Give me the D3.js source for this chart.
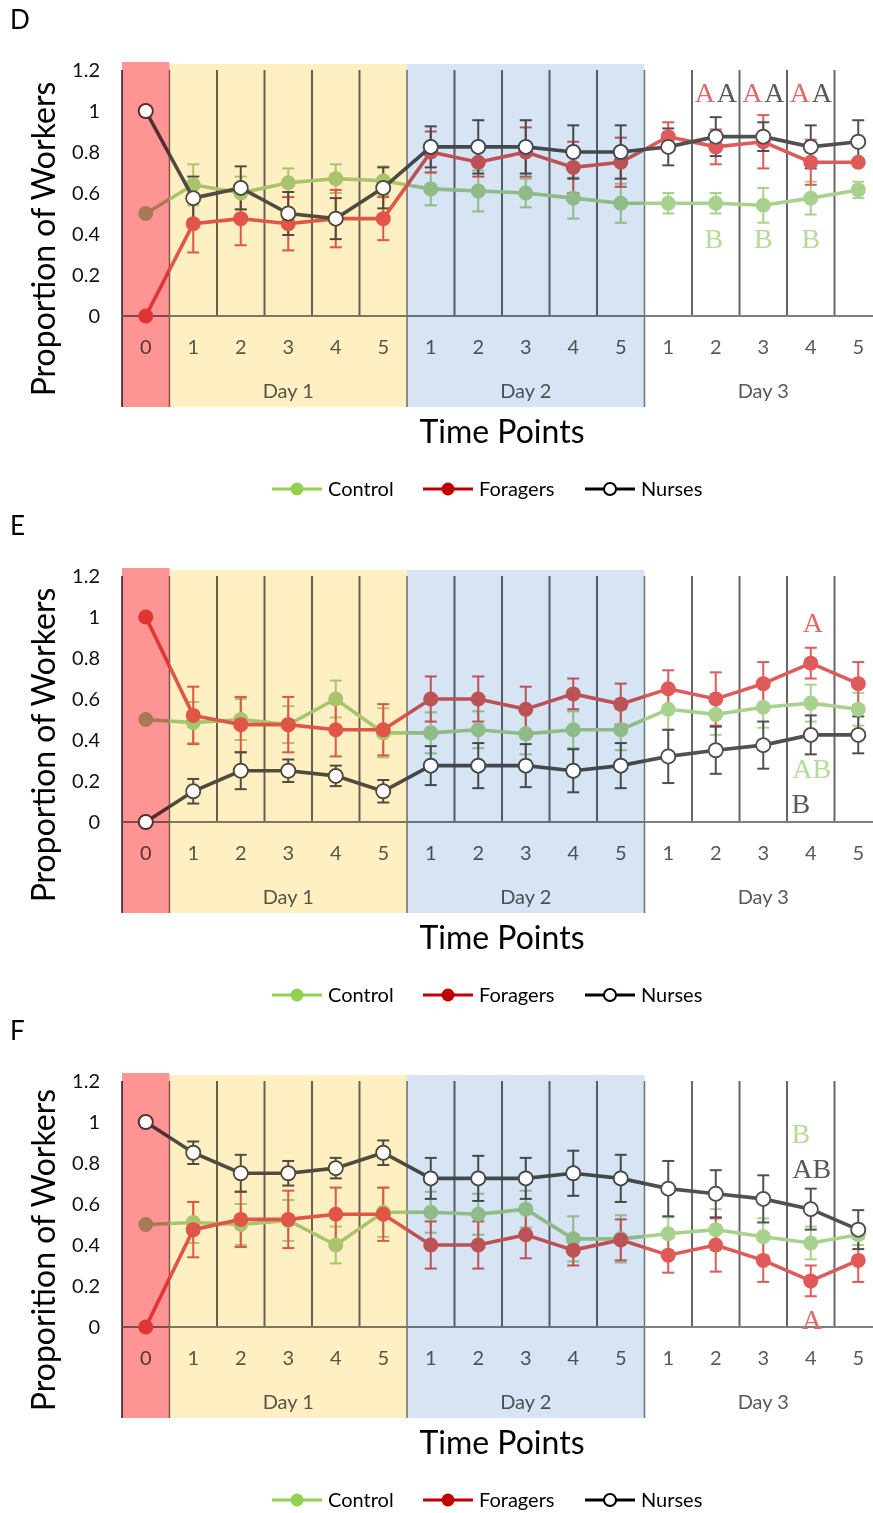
<!DOCTYPE html>
<html>
<head>
<meta charset="utf-8">
<script src="https://cdn.jsdelivr.net/npm/d3@7"></script>
<style>
  body { margin: 0; background: #fff; }
  svg { display: block; font-family: Lato, "Open Sans", sans-serif; }
</style>
</head>
<body>
<div id="chart"></div>
<script>
'use strict';

// categories on the x axis (time point within each day)
const categories = ['0', '1', '2', '3', '4', '5', '1', '2', '3', '4', '5', '1', '2', '3', '4', '5'];
const days = ['Day 1', 'Day 2', 'Day 3'];
const yTicks = [0, 0.2, 0.4, 0.6, 0.8, 1, 1.2];
const seriesNames = ['Control', 'Foragers', 'Nurses'];

// Panel D
const controlD = [0.5, 0.64, 0.60, 0.65, 0.67, 0.66, 0.62, 0.61, 0.60, 0.575, 0.55, 0.55, 0.55, 0.54, 0.575, 0.615];
const controlErrD = [0, 0.10, 0.08, 0.07, 0.07, 0.07, 0.08, 0.10, 0.07, 0.10, 0.095, 0.05, 0.05, 0.085, 0.08, 0.04];
const foragersD = [0, 0.45, 0.475, 0.45, 0.475, 0.475, 0.80, 0.75, 0.80, 0.725, 0.75, 0.875, 0.825, 0.85, 0.75, 0.75];
const foragersErrD = [0, 0.14, 0.13, 0.13, 0.14, 0.105, 0.10, 0.07, 0.12, 0.125, 0.12, 0.07, 0.085, 0.13, 0.11, 0];
const nursesD = [1, 0.575, 0.625, 0.50, 0.475, 0.625, 0.825, 0.825, 0.825, 0.80, 0.80, 0.825, 0.875, 0.875, 0.825, 0.85];
const nursesErrD = [0, 0.105, 0.105, 0.105, 0.10, 0.10, 0.10, 0.13, 0.13, 0.13, 0.13, 0.09, 0.095, 0.07, 0.105, 0.105];

// Panel E
const controlE = [0.5, 0.485, 0.50, 0.475, 0.60, 0.435, 0.435, 0.45, 0.43, 0.45, 0.45, 0.55, 0.525, 0.56, 0.58, 0.55];
const controlErrE = [0, 0.10, 0.10, 0.09, 0.09, 0.12, 0.10, 0.09, 0.10, 0.09, 0.10, 0.10, 0.10, 0.10, 0.09, 0.08];
const foragersE = [1, 0.52, 0.475, 0.475, 0.45, 0.45, 0.60, 0.60, 0.55, 0.625, 0.575, 0.65, 0.60, 0.675, 0.775, 0.675];
const foragersErrE = [0, 0.14, 0.135, 0.135, 0.13, 0.125, 0.11, 0.11, 0.11, 0.075, 0.10, 0.09, 0.13, 0.105, 0.075, 0.105];
const nursesE = [0, 0.15, 0.25, 0.25, 0.225, 0.15, 0.275, 0.275, 0.275, 0.25, 0.275, 0.32, 0.35, 0.375, 0.425, 0.425];
const nursesErrE = [0, 0.06, 0.09, 0.055, 0.05, 0.055, 0.095, 0.11, 0.105, 0.105, 0.11, 0.13, 0.115, 0.115, 0.095, 0.09];

// Panel F
const controlF = [0.5, 0.51, 0.50, 0.52, 0.40, 0.56, 0.56, 0.55, 0.575, 0.43, 0.43, 0.455, 0.475, 0.44, 0.41, 0.45];
const controlErrF = [0, 0.10, 0.10, 0.10, 0.09, 0.12, 0.10, 0.10, 0.09, 0.11, 0.115, 0.08, 0.10, 0.09, 0.08, 0.05];
const foragersF = [0, 0.475, 0.525, 0.525, 0.55, 0.55, 0.40, 0.40, 0.45, 0.375, 0.425, 0.35, 0.40, 0.325, 0.225, 0.325];
const foragersErrF = [0, 0.135, 0.135, 0.14, 0.13, 0.13, 0.115, 0.115, 0.115, 0.075, 0.10, 0.085, 0.13, 0.105, 0.075, 0.105];
const nursesF = [1, 0.85, 0.75, 0.75, 0.775, 0.85, 0.725, 0.725, 0.725, 0.75, 0.725, 0.675, 0.65, 0.625, 0.575, 0.475];
const nursesErrF = [0, 0.055, 0.09, 0.06, 0.05, 0.06, 0.10, 0.11, 0.10, 0.11, 0.115, 0.135, 0.115, 0.115, 0.10, 0.095];

// significance letters: point index, value where the baseline sits, text, series
const lettersD = [
	{i: 12, v: 1.045, text: 'A', s: 'Foragers', dx: -11}, {i: 12, v: 1.045, text: 'A', s: 'Nurses', dx: 11},
	{i: 13, v: 1.045, text: 'A', s: 'Foragers', dx: -11}, {i: 13, v: 1.045, text: 'A', s: 'Nurses', dx: 11},
	{i: 14, v: 1.045, text: 'A', s: 'Foragers', dx: -11}, {i: 14, v: 1.045, text: 'A', s: 'Nurses', dx: 11},
	{i: 12, v: 0.33, text: 'B', s: 'Control', dx: -2}, {i: 13, v: 0.33, text: 'B', s: 'Control', dx: 0},
	{i: 14, v: 0.33, text: 'B', s: 'Control', dx: 0}
];
const lettersE = [
	{i: 14, v: 0.925, text: 'A', s: 'Foragers', dx: 2},
	{i: 14, v: 0.215, text: 'AB', s: 'Control', dx: 1},
	{i: 14, v: 0.045, text: 'B', s: 'Nurses', dx: -10}
];
const lettersF = [
	{i: 14, v: 0.90, text: 'B', s: 'Control', dx: -10},
	{i: 14, v: 0.725, text: 'AB', s: 'Nurses', dx: 1},
	{i: 14, v: -0.012, text: 'A', s: 'Foragers', dx: 1}
];

const panels = [
	{letter: 'D', top: 0, yTitle: 'Proportion of Workers', series: [[controlD, controlErrD], [foragersD, foragersErrD], [nursesD, nursesErrD]], letters: lettersD},
	{letter: 'E', top: 506, yTitle: 'Proportion of Workers', series: [[controlE, controlErrE], [foragersE, foragersErrE], [nursesE, nursesErrE]], letters: lettersE},
	{letter: 'F', top: 1011, yTitle: 'Proporition of Workers', series: [[controlF, controlErrF], [foragersF, foragersErrF], [nursesF, nursesErrF]], letters: lettersF}
];

const colors = {'Control': '#a9d18e', 'Foragers': '#e05a5a', 'Nurses': '#505050'};
const letterColors = {'Control': '#b4db98', 'Foragers': '#e06a6a', 'Nurses': '#595959'};
const regionColors = ['#ff9494', '#fff0c3', '#d6e4f3'];

const W = 873, H = 1513;
const svg = d3.select('#chart').append('svg')
	.attr('width', W)
	.attr('height', H);

svg.append('rect').attr('width', W).attr('height', H).attr('fill', '#fff');

const x = d3.scalePoint()
	.domain(d3.range(categories.length))
	.range([122, 882])
	.padding(0.5);
const step = x.step();

function drawPanel(p) {
	const g = svg.append('g').attr('transform', 'translate(0,' + p.top + ')');
	const y = d3.scaleLinear().domain([0, 1.2]).range([316, 70]);
	const bottom = 407;

	g.append('text')
		.attr('x', 10).attr('y', 29)
		.attr('font-size', 26)
		.text(p.letter);

	// vertical separators
	for (let k = 1; k < categories.length; k++) {
		const xx = x(k) - step / 2;
		const big = (k === 1 || k === 6 || k === 11);
		g.append('line')
			.attr('x1', xx).attr('x2', xx)
			.attr('y1', y(1.2)).attr('y2', big ? bottom : y(0))
			.attr('stroke', big ? '#777' : '#666')
			.attr('stroke-width', big ? 1.5 : 2);
	}
	// left axis line and x axis line
	g.append('line').attr('x1', 122).attr('x2', 122).attr('y1', y(1.2)).attr('y2', bottom)
		.attr('stroke', '#555').attr('stroke-width', 2);
	g.append('line').attr('x1', 122).attr('x2', W).attr('y1', y(0)).attr('y2', y(0))
		.attr('stroke', '#7f7f7f').attr('stroke-width', 2);

	// y axis labels
	const yAxis = d3.axisLeft(y)
		.tickValues(yTicks)
		.tickSize(0)
		.tickPadding(22)
		.tickFormat(d => String(d));
	const ya = g.append('g').attr('transform', 'translate(122,0)').call(yAxis);
	ya.select('.domain').remove();
	ya.selectAll('text').attr('font-size', 20).attr('font-family', 'Lato').attr('fill', '#111');

	// x category labels
	g.selectAll('.xlab').data(categories).enter().append('text')
		.attr('x', (d, i) => x(i))
		.attr('y', 354)
		.attr('text-anchor', 'middle')
		.attr('font-size', 20)
		.attr('fill', '#595959')
		.text(d => d);
	days.forEach((d, k) => {
		g.append('text')
			.attr('x', x(1 + k * 5 + 2))
			.attr('y', 398)
			.attr('text-anchor', 'middle')
			.attr('font-size', 20)
			.attr('fill', '#595959')
			.text(d);
	});

	// series
	const line = d3.line().x((d, i) => x(i)).y(d => y(d));
	p.series.forEach((s, si) => {
		const name = seriesNames[si];
		const col = colors[name];
		const vals = s[0], errs = s[1];
		const eb = g.append('g');
		vals.forEach((v, i) => {
			const e = errs[i];
			if (!e) return;
			eb.append('line').attr('x1', x(i)).attr('x2', x(i)).attr('y1', y(v - e)).attr('y2', y(v + e))
				.attr('stroke', col).attr('stroke-width', 2);
			[v - e, v + e].forEach(c => {
				eb.append('line').attr('x1', x(i) - 6).attr('x2', x(i) + 6).attr('y1', y(c)).attr('y2', y(c))
					.attr('stroke', col).attr('stroke-width', 2);
			});
		});
	});
	p.series.forEach((s, si) => {
		const name = seriesNames[si];
		const col = colors[name];
		g.append('path')
			.attr('d', line(s[0]))
			.attr('fill', 'none')
			.attr('stroke', col)
			.attr('stroke-width', 3.6);
		g.selectAll('.m' + si).data(s[0]).enter().append('circle')
			.attr('cx', (d, i) => x(i))
			.attr('cy', d => y(d))
			.attr('r', name === 'Nurses' ? 7 : 7.5)
			.attr('fill', name === 'Nurses' ? '#fff' : col)
			.attr('stroke', col)
			.attr('stroke-width', name === 'Nurses' ? 2 : 0);
	});

	// shaded day regions, multiplied over the plot
	const regions = [[0, 1], [1, 6], [6, 11]];
	regions.forEach((r, k) => {
		const x0 = x(r[0]) - step / 2, x1 = x(r[1]) - step / 2;
		g.append('rect')
			.attr('x', x0).attr('y', k === 0 ? 62 : 64)
			.attr('width', x1 - x0)
			.attr('height', bottom - (k === 0 ? 62 : 64))
			.attr('fill', regionColors[k])
			.style('mix-blend-mode', 'multiply');
	});
	// open marker interiors stay white
	g.selectAll('.hole').data(p.series[2][0]).enter().append('circle')
		.attr('cx', (d, i) => x(i))
		.attr('cy', d => y(d))
		.attr('r', 6)
		.attr('fill', '#fff');

	// significance letters
	p.letters.forEach(l => {
		g.append('text')
			.attr('x', x(l.i) + l.dx)
			.attr('y', y(l.v))
			.attr('text-anchor', 'middle')
			.attr('font-family', '"Liberation Serif", serif')
			.attr('font-size', 28)
			.attr('fill', letterColors[l.s])
			.text(l.text);
	});

	// axis titles
	g.append('text')
		.attr('transform', 'translate(55,239) rotate(-90)')
		.attr('text-anchor', 'middle')
		.attr('font-size', 32)
		.text(p.yTitle);
	g.append('text')
		.attr('x', 502).attr('y', 443)
		.attr('text-anchor', 'middle')
		.attr('font-size', 32)
		.text('Time Points');

	// legend
	const lg = g.append('g').attr('transform', 'translate(0,489)');
	const legX = [272, 423, 585];
	seriesNames.forEach((name, k) => {
		const col = name === 'Control' ? '#92d050' : (name === 'Foragers' ? '#c00000' : '#000');
		lg.append('line').attr('x1', legX[k]).attr('x2', legX[k] + 50).attr('y1', 0).attr('y2', 0)
			.attr('stroke', col).attr('stroke-width', 3);
		lg.append('circle').attr('cx', legX[k] + 25).attr('cy', 0).attr('r', name === 'Nurses' ? 6 : 6.5)
			.attr('fill', name === 'Nurses' ? '#fff' : col)
			.attr('stroke', col).attr('stroke-width', name === 'Nurses' ? 2 : 0);
		lg.append('text').attr('x', legX[k] + 56).attr('y', 7)
			.attr('font-size', 20)
			.text(name);
	});
}

panels.forEach(drawPanel);
</script>
</body>
</html>
